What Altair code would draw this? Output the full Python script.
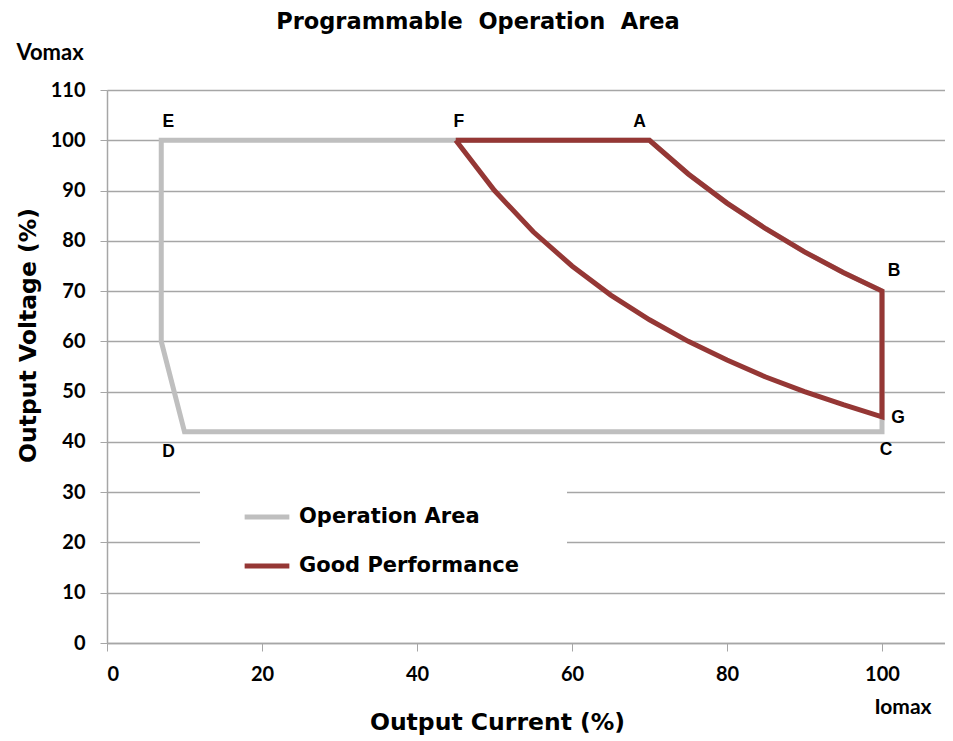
import altair as alt
import pandas as pd

# ---- data ----
series_names = ["Operation Area", "Good Performance"]
series_colors = ["#BFBFBF", "#953735"]

# Operation Area outline (current %, voltage %)
op_x = [45, 7, 7, 10, 100, 100, 95, 90, 85, 80, 75, 70, 45]
op_y = [100, 100, 60, 42, 42, 70, 73.7, 77.8, 82.4, 87.5, 93.3, 100, 100]

# Good Performance outline
gp_x = [45, 70, 75, 80, 85, 90, 95, 100, 100, 95, 90, 85, 80, 75, 70, 65, 60, 55, 50, 45]
gp_y = [100, 100, 93.3, 87.5, 82.4, 77.8, 73.7, 70, 45, 47.4, 50, 52.9, 56.3, 60, 64.3, 69.2, 75, 81.8, 90, 100]

# Point labels
lab_text = ["E", "F", "A", "B", "G", "C", "D"]
lab_x = [7, 45, 70, 100, 100, 100, 10]
lab_y = [100, 100, 100, 70, 45, 42, 42]
lab_dx = [7, 3, -10, 12, 16, 4, -16]
lab_dy = [-18, -18, -18, -20, 1, 18, 20]

x_ticks = [0, 20, 40, 60, 80, 100]
y_ticks = [0, 10, 20, 30, 40, 50, 60, 70, 80, 90, 100, 110]

rows = []
for i, (x, y) in enumerate(zip(op_x, op_y)):
    rows.append({"series": series_names[0], "x": x, "y": y, "ord": i})
for i, (x, y) in enumerate(zip(gp_x, gp_y)):
    rows.append({"series": series_names[1], "x": x, "y": y, "ord": i})
df = pd.DataFrame(rows)

W, H = 838, 553
PX_PER_UNIT = 7.75
x_max = W / PX_PER_UNIT

FONT = "DejaVu Sans"
NUMFONT = "Lato"

xscale = alt.Scale(domain=[0, x_max], nice=False, zero=False)
yscale = alt.Scale(domain=[0, 110], nice=False)

color = alt.Color(
    "series:N",
    scale=alt.Scale(domain=series_names, range=series_colors),
    legend=alt.Legend(
        title=None,
        orient="none",
        legendX=135,
        legendY=402,
        symbolType="stroke",
        symbolSize=2000,
        symbolStrokeWidth=5,
        labelFontSize=21,
        labelFont=FONT,
        labelFontWeight="bold",
        labelColor="#000000",
        labelOffset=7,
        labelLimit=0,
        rowPadding=14,
        padding=0,
        symbolOpacity=1,
    ),
)

xenc = alt.X(
    "x:Q",
    scale=xscale,
    axis=alt.Axis(
        values=x_ticks,
        grid=False,
        title="Output Current (%)",
        titleFont=FONT,
        titleFontSize=23.5,
        titleFontWeight="bold",
        titleColor="#000000",
        titleX=390,
        titleY=79,
        titleBaseline="middle",
        labelFont=NUMFONT,
        labelFontSize=20,
        labelFontWeight="bold",
        labelColor="#000000",
        labelPadding=13,
        tickSize=8,
        tickColor="#A6A6A6",
        domainColor="#A6A6A6",
        domainWidth=1.5,
    ),
)
yenc = alt.Y(
    "y:Q",
    scale=yscale,
    axis=alt.Axis(
        values=y_ticks,
        grid=True,
        gridColor="#A6A6A6",
        gridWidth=1.3,
        title="Output Voltage (%)",
        titleFont=FONT,
        titleFontSize=23.5,
        titleFontWeight="bold",
        titleColor="#000000",
        titleAngle=-90,
        titleX=-79,
        titleY=245,
        titleBaseline="middle",
        titleAlign="center",
        labelFont=NUMFONT,
        labelFontSize=20,
        labelFontWeight="bold",
        labelColor="#000000",
        labelPadding=15,
        tickSize=7,
        tickColor="#A6A6A6",
        domainColor="#A6A6A6",
        domainWidth=1.5,
    ),
)

base = alt.Chart(df)

cover = alt.Chart(pd.DataFrame({"a": [0]})).mark_rect(color="white").encode(
    x=alt.value(93), x2=alt.value(460), y=alt.value(398), y2=alt.value(500)
)

op_line = base.transform_filter(alt.datum.series == series_names[0]).mark_line(
    strokeWidth=5, strokeJoin="miter"
).encode(x=xenc, y=yenc, color=color, order="ord:Q")

gp_line = base.transform_filter(alt.datum.series == series_names[1]).mark_line(
    strokeWidth=5, strokeJoin="miter"
).encode(x=xenc, y=yenc, color=color, order="ord:Q")

label_layers = []
for t, x, y, dx, dy in zip(lab_text, lab_x, lab_y, lab_dx, lab_dy):
    label_layers.append(
        alt.Chart(pd.DataFrame({"t": [t], "x": [x], "y": [y]})).mark_text(
            font="Liberation Sans", fontSize=17.5, fontWeight="bold", color="#000000",
            baseline="middle", dx=dx, dy=dy,
        ).encode(
            x=alt.X("x:Q", scale=xscale),
            y=alt.Y("y:Q", scale=yscale),
            text="t:N",
        )
    )

GAP = " \u00a0"
title_text = GAP.join(["Programmable", "Operation", "Area"])
title = alt.Chart(pd.DataFrame({"t": [title_text]})).mark_text(
    font=FONT, fontSize=22.5, fontWeight="bold", color="#000000", baseline="middle"
).encode(x=alt.value(371), y=alt.value(-68), text="t:N")

vomax = alt.Chart(pd.DataFrame({"t": ["Vomax"]})).mark_text(
    font=NUMFONT, fontSize=22, fontWeight="bold", color="#000000", baseline="middle"
).encode(x=alt.value(-57), y=alt.value(-37), text="t:N")

iomax = alt.Chart(pd.DataFrame({"t": ["Iomax"]})).mark_text(
    font=NUMFONT, fontSize=21, fontWeight="bold", color="#000000", baseline="middle"
).encode(x=alt.value(796), y=alt.value(618), text="t:N")

chart = alt.layer(cover, op_line, gp_line, *label_layers, title, vomax, iomax).properties(
    width=W,
    height=H,
    padding={"left": 99, "top": 82, "right": 0, "bottom": 98},
    autosize=alt.AutoSizeParams(type="none"),
).configure_view(stroke=None).configure(background="white")

chart.save("out.html", embed_options={"renderer": "svg", "actions": False})
